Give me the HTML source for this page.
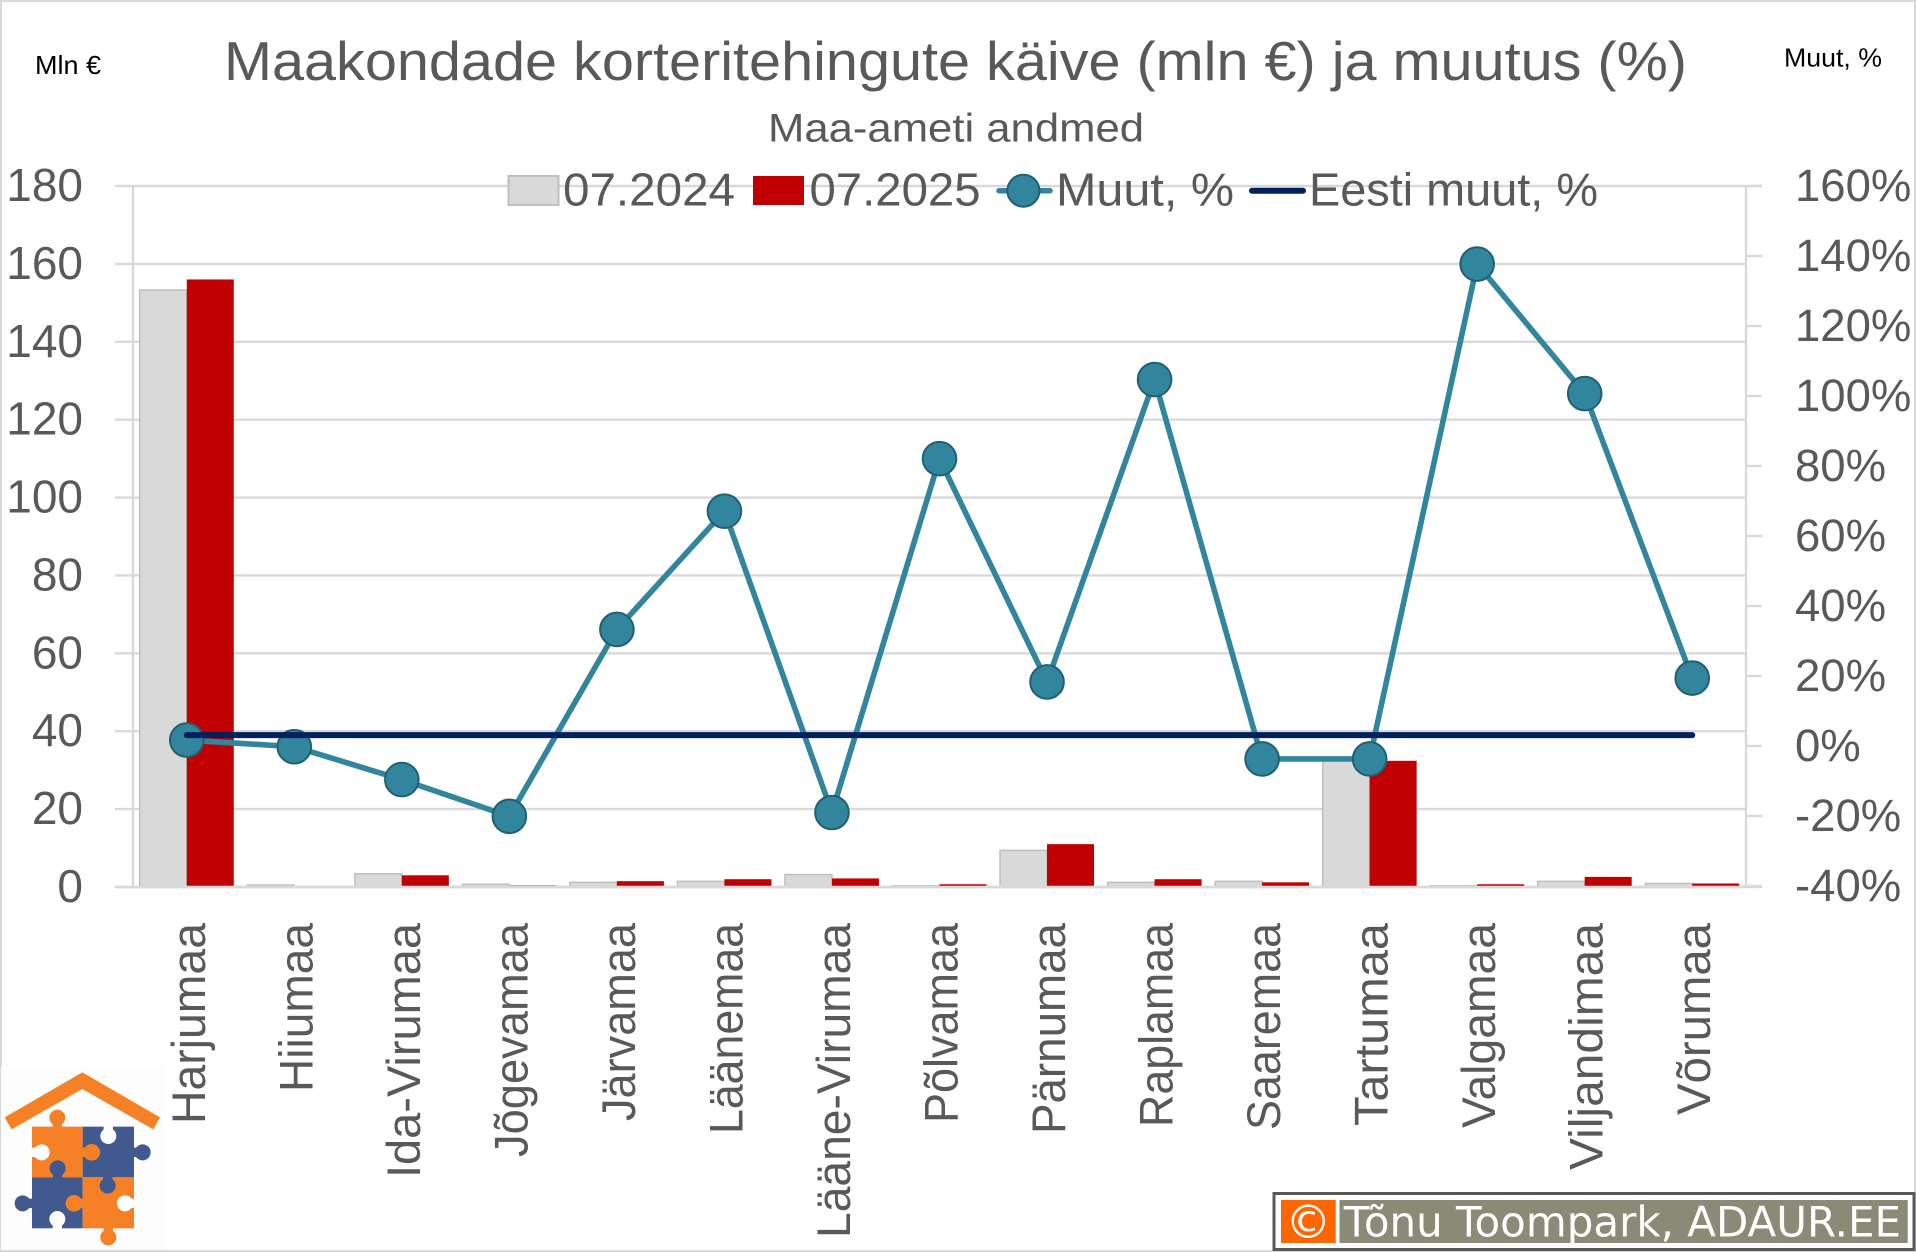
<!DOCTYPE html>
<html lang="et">
<head>
<meta charset="utf-8">
<title>Maakondade korteritehingute käive (mln €) ja muutus (%)</title>
<style>
html,body{margin:0;padding:0;background:#fff;}
svg{display:block;font-family:"Liberation Sans",sans-serif;}
</style>
</head>
<body>
<svg id="chart" xmlns="http://www.w3.org/2000/svg" width="1916" height="1252" viewBox="0 0 1916 1252">
  <rect x="1" y="1" width="1914" height="1250" fill="#fff" stroke="#d9d9d9" stroke-width="2"/>
  <g id="plot"></g>

  <text x="224" y="80" font-size="55" fill="#595959" textLength="1463" lengthAdjust="spacingAndGlyphs">Maakondade korteritehingute käive (mln €) ja muutus (%)</text>
  <text x="768" y="141.7" font-size="40" fill="#595959" textLength="376" lengthAdjust="spacingAndGlyphs">Maa-ameti andmed</text>
  <text x="35" y="74" font-size="26" fill="#000" textLength="66" lengthAdjust="spacingAndGlyphs">Mln €</text>
  <text x="1784" y="66.7" font-size="26" fill="#000" textLength="98" lengthAdjust="spacingAndGlyphs">Muut, %</text>

  <g>
    <g>
      <rect x="508.5" y="176" width="50" height="29" fill="#d9d9d9" stroke="#bfbfbf" stroke-width="2"/>
      <text x="563" y="205.7" font-size="46" fill="#595959" textLength="172" lengthAdjust="spacingAndGlyphs">07.2024</text>
    </g>
    <g>
      <rect x="753" y="176" width="51" height="29" fill="#c00000"/>
      <text x="809.5" y="205.7" font-size="46" fill="#595959" textLength="171" lengthAdjust="spacingAndGlyphs">07.2025</text>
    </g>
    <g>
      <line x1="999" y1="190.7" x2="1050" y2="190.7" stroke="#31859c" stroke-width="5.5" stroke-linecap="round"/>
      <circle cx="1023.4" cy="190.7" r="16" fill="#31859c" stroke="#215f72" stroke-width="2"/>
      <text x="1056" y="205.7" font-size="46" fill="#595959" textLength="178" lengthAdjust="spacingAndGlyphs">Muut, %</text>
    </g>
    <g>
      <line x1="1252" y1="190.7" x2="1303" y2="190.7" stroke="#002060" stroke-width="6" stroke-linecap="round"/>
      <text x="1309" y="205.7" font-size="46" fill="#595959" textLength="289" lengthAdjust="spacingAndGlyphs">Eesti muut, %</text>
    </g>
  </g>

  <g transform="translate(0,1040) scale(0.3333)">
    <rect x="3" y="78" width="492" height="552" fill="#fcfdfc"/>
    <polygon points="14,232 247,97 480,232 460,268 247,147 35,268" fill="#f58026"/>
    <rect x="96" y="260" width="152" height="152" fill="#f58026"/>
    <rect x="248" y="260" width="154" height="152" fill="#41598f"/>
    <rect x="96" y="412" width="152" height="153" fill="#41598f"/>
    <rect x="248" y="412" width="154" height="153" fill="#f58026"/>
    <g fill="#f58026">
      <circle cx="172" cy="233" r="24"/><rect x="158" y="245" width="28" height="18"/>
      <circle cx="275" cy="337" r="25"/><rect x="245" y="323" width="15" height="28"/>
      <circle cx="222" cy="490" r="25"/><rect x="235" y="476" width="15" height="28"/>
      <circle cx="325" cy="592" r="24"/><rect x="311" y="562" width="28" height="15"/>
    </g>
    <g fill="#41598f">
      <circle cx="428" cy="337" r="24"/><rect x="400" y="323" width="15" height="28"/>
      <circle cx="173" cy="385" r="24"/><rect x="159" y="398" width="28" height="16"/>
      <circle cx="323" cy="437" r="24"/><rect x="309" y="410" width="28" height="15"/>
      <circle cx="68" cy="490" r="24"/><rect x="82" y="476" width="16" height="28"/>
    </g>
    <g fill="#fcfdfc">
      <circle cx="125" cy="337" r="24"/><rect x="94" y="323" width="16" height="28"/>
      <circle cx="325" cy="288" r="24"/><rect x="311" y="258" width="28" height="16"/>
      <circle cx="375" cy="490" r="24"/><rect x="388" y="476" width="16" height="28"/>
      <circle cx="172" cy="537" r="24"/><rect x="158" y="550" width="28" height="17"/>
    </g>
  </g>

  <g>
    <rect x="1274" y="1193.5" width="640" height="56" fill="#fff" stroke="#595959" stroke-width="3"/>
    <rect x="1281" y="1200" width="54.7" height="43" fill="#ff6600"/>
    <text x="1308.3" y="1238" font-size="46" fill="#fff" text-anchor="middle" style="font-family:'DejaVu Sans',sans-serif">©</text>
    <rect x="1339.5" y="1200" width="568.2" height="43" fill="#8a8a76"/>
    <text x="1343.7" y="1236.7" font-size="42" fill="#fff" textLength="557.3" lengthAdjust="spacingAndGlyphs" style="font-family:'DejaVu Sans',sans-serif">Tõnu Toompark, ADAUR.EE</text>
  </g>
</svg>

<script>
const categories = ["Harjumaa","Hiiumaa","Ida-Virumaa","Jõgevamaa","Järvamaa","Läänemaa","Lääne-Virumaa","Põlvamaa","Pärnumaa","Raplamaa","Saaremaa","Tartumaa","Valgamaa","Viljandimaa","Võrumaa"];
const turnover2024 = [153.3,0.5,3.4,0.7,1.2,1.45,3.2,0.3,9.4,1.2,1.45,32.5,0.3,1.45,0.9];
const turnover2025 = [156,0,3.0,0.4,1.5,2.0,2.2,0.7,11,2.0,1.2,32.4,0.7,2.6,0.9];
const changePct = [1.7,-0.2,-9.6,-20.1,33.3,67.1,-19,82.1,18.3,104.7,-3.7,-3.7,137.7,100.7,19.4];
const estoniaChangePct = [3.1,3.1,3.1,3.1,3.1,3.1,3.1,3.1,3.1,3.1,3.1,3.1,3.1,3.1,3.1];
const leftTicks = [0,20,40,60,80,100,120,140,160,180];
const rightTicks = [-40,-20,0,20,40,60,80,100,120,140,160];

const plotLeft = 133, plotRight = 1746, plotTop = 186, plotBottom = 887;
const bandWidth = (plotRight - plotLeft) / categories.length;
const barWidth = 47;
const labelLengthByIndex = [201,169,255,234,198,211,315,200,211,204,207,203,205,247,192];

function xCenter(i){ return plotLeft + bandWidth * (i + 0.5); }
function yLeft(v){ return plotBottom - (v - 0) * (plotBottom - plotTop) / 180; }
function yRight(v){ return 186 + (160 - v) * 3.5; }

const NS = "http://www.w3.org/2000/svg";
const plot = document.getElementById("plot");
function make(tag, attrs, parent){
  const n = document.createElementNS(NS, tag);
  for (const k in attrs) n.setAttribute(k, attrs[k]);
  (parent || plot).appendChild(n);
  return n;
}

// Gridlines and left axis labels
leftTicks.forEach(function(v){
  const y = yLeft(v);
  const grid = make("line", {x1:115, x2:plotRight + (v === 180 ? 16 : 0), y1:y, y2:y, stroke:"#d9d9d9", "stroke-width":2.4});
  
  
  const t = make("text", {x:83, y:y + 15, "text-anchor":"end", "font-size":46, fill:"#595959"});
  t.textContent = String(v);
  
  
});

// Axis lines
const leftAxis = make("line", {x1:plotLeft, x2:plotLeft, y1:plotTop, y2:plotBottom, stroke:"#d9d9d9", "stroke-width":2.4});


const rightAxis = make("line", {x1:plotRight, x2:plotRight, y1:plotTop, y2:plotBottom, stroke:"#d9d9d9", "stroke-width":2.4});



// Right axis ticks and labels
rightTicks.forEach(function(v){
  const y = yRight(v);
  const tick = make("line", {x1:plotRight, x2:plotRight + 16, y1:y, y2:y, stroke:"#d9d9d9", "stroke-width":2.4});
  
  
  const t = make("text", {x:1795, y:y + 15, "font-size":45.5, fill:"#595959"});
  t.textContent = v + "%";
  
  
});

// Bars
categories.forEach(function(c, i){
  const cx = xCenter(i);
  const y1 = yLeft(turnover2024[i]);
  const b1 = make("rect", {x:cx - barWidth, y:y1, width:barWidth, height:Math.max(0, plotBottom - y1), fill:"#d9d9d9", stroke:"#bfbfbf", "stroke-width":1.5});
  
  
});
categories.forEach(function(c, i){
  const cx = xCenter(i);
  const y2 = yLeft(turnover2025[i]);
  const b2 = make("rect", {x:cx, y:y2, width:barWidth, height:Math.max(0, plotBottom - y2), fill:"#c00000"});
  
  
});

// Baseline over bars
const baseline = make("line", {x1:115, x2:plotRight + 16, y1:plotBottom, y2:plotBottom, stroke:"#d9d9d9", "stroke-width":2.5});



// Change line
const changeLine = make("polyline", {
  points: changePct.map(function(v, i){ return xCenter(i) + "," + yRight(v); }).join(" "),
  fill:"none", stroke:"#31859c", "stroke-width":5.6, "stroke-linejoin":"round"
});



changePct.forEach(function(v, i){
  const m = make("circle", {cx:xCenter(i), cy:yRight(v), r:16.8, fill:"#31859c", stroke:"#215f72", "stroke-width":2});
  
  
});

// Estonia line
const estoniaLine = make("polyline", {
  points: estoniaChangePct.map(function(v, i){ return xCenter(i) + "," + yRight(v); }).join(" "),
  fill:"none", stroke:"#002060", "stroke-width":6, "stroke-linecap":"round"
});



// Category labels
categories.forEach(function(c, i){
  const bx = xCenter(i) + 18;
  const t = make("text", {
    transform:"translate(" + bx + ",923) rotate(-90)",
    x:0, y:0, "text-anchor":"end", "font-size":47, fill:"#595959",
    textLength:labelLengthByIndex[i], lengthAdjust:"spacingAndGlyphs"
  });
  t.textContent = c;
  
  
});
</script>
</body>
</html>
